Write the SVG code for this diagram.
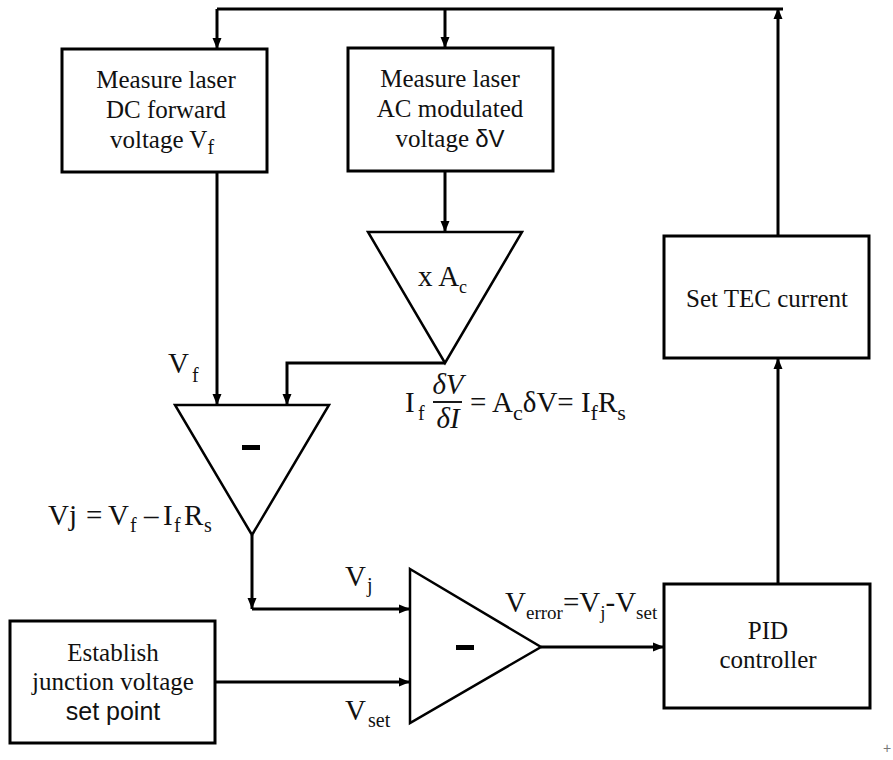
<svg xmlns="http://www.w3.org/2000/svg" width="893" height="760" viewBox="0 0 893 760">
<style>
.box{fill:#fff;stroke:#000;stroke-width:3}
.tri{fill:#fff;stroke:#000;stroke-width:2.5;stroke-linejoin:miter}
.ln{fill:none;stroke:#000;stroke-width:3}
.t{font-family:"Liberation Serif","Times New Roman",serif;font-size:25px;fill:#111;text-anchor:middle}
.s{font-family:"Liberation Sans",Arial,sans-serif}
.lab{font-family:"Liberation Serif","Times New Roman",serif;font-size:29px;fill:#111}
.sub{font-size:20px}
.it{font-style:italic}
</style>
<defs>
<marker id="ah" markerUnits="userSpaceOnUse" markerWidth="12" markerHeight="10" refX="11" refY="5" orient="auto">
<path d="M0,0.5 L11,5 L0,9.5 z" fill="#000"/>
</marker>
</defs>
<rect width="893" height="760" fill="#fff"/>

<g id="connectors">
<path class="ln" d="M217,9 H783"/>
<path class="ln" d="M217,9 V49" marker-end="url(#ah)"/>
<path class="ln" d="M445,9 V48" marker-end="url(#ah)"/>
<path class="ln" d="M778,236 V8" marker-end="url(#ah)"/>
<path class="ln" d="M445,171 V232" marker-end="url(#ah)"/>
<path class="ln" d="M217,172 V405" marker-end="url(#ah)"/>
<path class="ln" d="M445,363 H287 V405" marker-end="url(#ah)"/>
<path class="ln" d="M252,535 V609" marker-end="url(#ah)"/>
<path class="ln" d="M252,609 H410" marker-end="url(#ah)"/>
<path class="ln" d="M215,682 H410" marker-end="url(#ah)"/>
<path class="ln" d="M541,647 H664" marker-end="url(#ah)"/>
<path class="ln" d="M778,584 V358" marker-end="url(#ah)"/>
</g>

<g id="measure-dc">
<rect class="box" x="62" y="49" width="205" height="123"/>
<text class="t" x="166" y="88">Measure laser</text>
<text class="t" x="166" y="118">DC forward</text>
<text class="t" x="162" y="148">voltage V<tspan class="sub" font-size="17" dy="6">f</tspan></text>
</g>

<g id="measure-ac">
<rect class="box" x="348" y="48" width="205" height="123"/>
<text class="t" x="450" y="87">Measure laser</text>
<text class="t" x="450" y="117">AC modulated</text>
<text class="t" x="450" y="147">voltage <tspan class="s" font-size="24">δV</tspan></text>
</g>

<g id="gain">
<polygon class="tri" points="368,232 522,232 445,363"/>
<text class="lab" x="418" y="286" font-size="26">x A<tspan font-size="18" dy="7">c</tspan></text>
</g>

<g id="subtract">
<polygon class="tri" points="175,405 329,405 252,535"/>
<rect x="242" y="445" width="18" height="5" fill="#000"/>
</g>

<g id="comparator">
<polygon class="tri" points="410,569 541,647 410,723"/>
<rect x="456" y="645" width="18" height="5" fill="#000"/>
</g>

<g id="establish">
<rect class="box" x="10" y="621" width="205" height="122"/>
<text class="t" x="113" y="661">Establish</text>
<text class="t" x="113" y="690">junction voltage</text>
<text class="t s" x="113" y="720" font-size="23">set point</text>
</g>

<g id="pid">
<rect class="box" x="664" y="584" width="206" height="124"/>
<text class="t" x="768" y="639">PID</text>
<text class="t" x="768" y="668">controller</text>
</g>

<g id="set-tec">
<rect class="box" x="664" y="236" width="205" height="122"/>
<text class="t" x="767" y="307">Set TEC current</text>
</g>

<g id="labels">
<text class="lab" x="168" y="373" font-size="30">V</text>
<text class="lab sub" x="192" y="382" font-size="21">f</text>

<text class="lab" x="48" y="525">Vj</text>
<text class="lab" x="86" y="525">=</text>
<text class="lab" x="108" y="525">V</text>
<text class="lab sub" x="130" y="532">f</text>
<text class="lab" x="144" y="525">–</text>
<text class="lab" x="163" y="525">I</text>
<text class="lab sub" x="174" y="532">f</text>
<text class="lab" x="184" y="525" font-size="30">R</text>
<text class="lab sub" x="204" y="532">s</text>

<text class="lab" x="405" y="412" font-size="32">I</text>
<text class="lab sub" x="418" y="420" font-size="22">f</text>
<text class="lab it" x="448" y="394" font-size="22" text-anchor="middle">δV</text>
<line x1="433" y1="402" x2="462" y2="402" stroke="#000" stroke-width="1.8"/>
<text class="lab it" x="448" y="428" font-size="22" text-anchor="middle">δI</text>
<text class="lab" x="470" y="412" font-size="32">= A<tspan font-size="22" dy="8">c</tspan><tspan dy="-8">δV= I</tspan><tspan font-size="22" dy="8">f</tspan><tspan dy="-8">R</tspan><tspan font-size="22" dy="8">s</tspan></text>

<text class="lab" x="345" y="586">V</text>
<text class="lab sub" x="367" y="592">j</text>

<text class="lab" x="345" y="720" font-size="30">V</text>
<text class="lab sub" x="368" y="727">set</text>

<text class="lab" x="505" y="612" font-size="28">V<tspan font-size="19" dy="7">error</tspan><tspan dy="-7">=V</tspan><tspan font-size="19" dy="7">j</tspan><tspan dy="-7">-V</tspan><tspan font-size="19" dy="7">set</tspan></text>

<text x="887" y="753" font-family="Liberation Sans, sans-serif" font-size="14" fill="#777" text-anchor="middle">+</text>
</g>
</svg>
